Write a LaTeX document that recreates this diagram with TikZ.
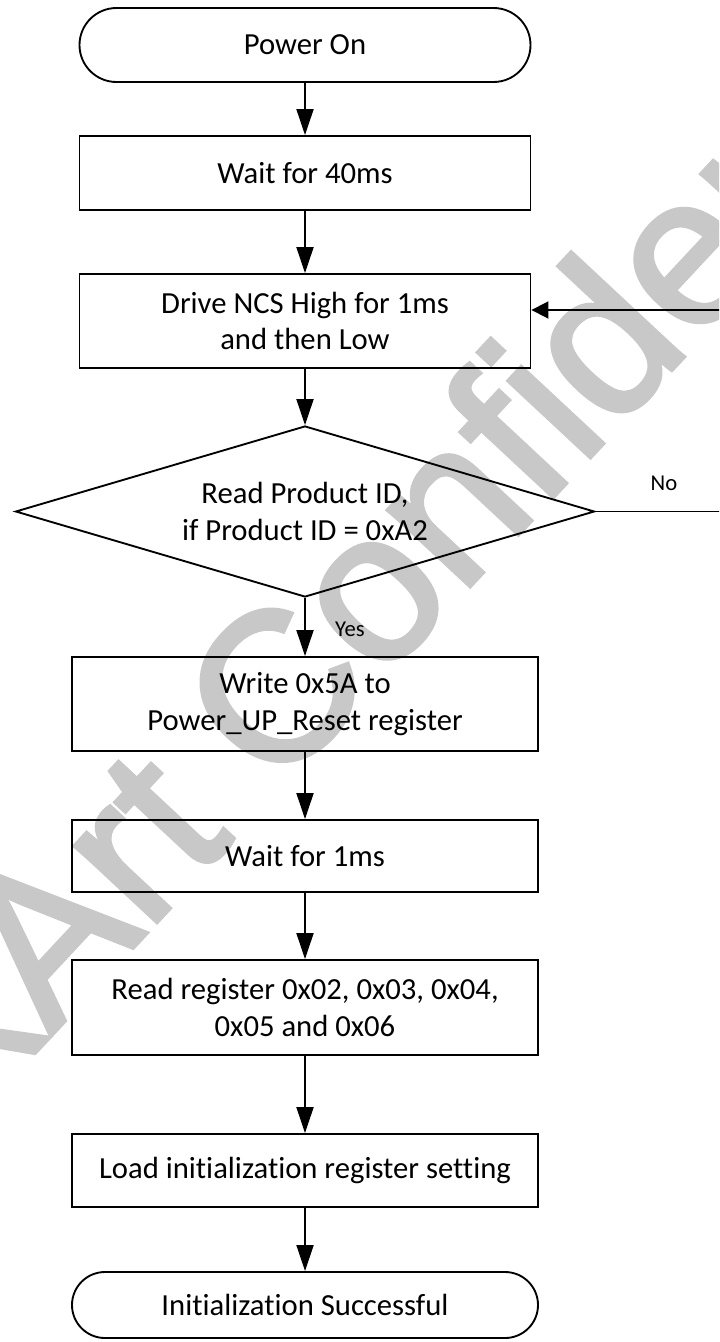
\documentclass[tikz,border=0pt]{standalone}
\usepackage{fontspec}
\setmainfont{Carlito}[Ligatures={NoCommon}]
\newfontfamily\wmfont{Liberation Sans}[FakeBold=2]
\usetikzlibrary{arrows.meta,shapes.geometric,shapes.misc}
\definecolor{wmgray}{RGB}{200,200,200}
\tikzset{
  base/.style={draw=black,line width=1.4pt,align=center,inner sep=0pt,
    font=\fontsize{23}{27.5}\selectfont},
  procbox/.style={base,rectangle,minimum width=#1},
  termbox/.style={base,rounded rectangle,minimum width=#1},
  decbox/.style={base,diamond,aspect=3.39,minimum width=434.25pt,minimum height=128.25pt},
  varrow/.style={line width=1.4pt,-{Triangle[length=19.5pt,width=12.75pt]}},
  harrow/.style={line width=1.4pt,-{Triangle[length=12.75pt,width=12.75pt]}},
  lbl/.style={font=\fontsize{17}{20}\selectfont,inner sep=0pt},
  wm/.style={text=wmgray,inner sep=0pt,font=\wmfont\fontsize{159}{159}\selectfont}
}
\begin{document}
\begin{tikzpicture}[x=0.75pt,y=-0.75pt]
\useasboundingbox (0,0) rectangle (719,1342);
\clip (0,0) rectangle (719,1342);
\fill[white] (0,0) rectangle (719,1342);
\node[wm,rotate=47] (wmark) at (389,562) {PixArt Confidential};

\node[termbox=338.25pt,minimum height=55.5pt] (pon) at (305,45) {Power On};
\node[procbox=338.25pt,minimum height=55.5pt] (w40) at (305,173) {Wait for 40ms};
\node[procbox=338.25pt,minimum height=70.5pt] (ncs) at (305,321) {Drive NCS High for 1ms\\and then Low};
\node[decbox] (dec) at (305,511.5) {Read Product ID,\\if Product ID = 0xA2};
\node[procbox=349.5pt,minimum height=70.5pt] (wr) at (305,704) {Write 0x5A to\\Power\_UP\_Reset register};
\node[procbox=349.5pt,minimum height=54pt] (w1) at (305,856) {Wait for 1ms};
\node[procbox=349.5pt,minimum height=71.25pt] (rd) at (305,1007.5) {Read register 0x02, 0x03, 0x04,\\0x05 and 0x06};
\node[procbox=349.5pt,minimum height=54.75pt] (ld) at (305,1170.5) {Load initialization register setting};
\node[termbox=349.5pt,minimum height=49.5pt] (ok) at (305,1305) {Initialization Successful};

\node[lbl] (no) at (664,483) {No};
\node[lbl] (yes) at (350,629) {Yes};

\draw[varrow] (pon) -- (w40);
\draw[varrow] (w40) -- (ncs);
\draw[varrow] (ncs) -- (dec);
\draw[varrow] (dec) -- (wr);
\draw[varrow] (wr) -- (w1);
\draw[varrow] (w1) -- (rd);
\draw[varrow] (rd) -- (ld);
\draw[varrow] (ld) -- (ok);
\draw[harrow] (dec.east) -- ++(150,0) |- ([yshift=8.25pt]ncs.east);
\end{tikzpicture}
\end{document}
